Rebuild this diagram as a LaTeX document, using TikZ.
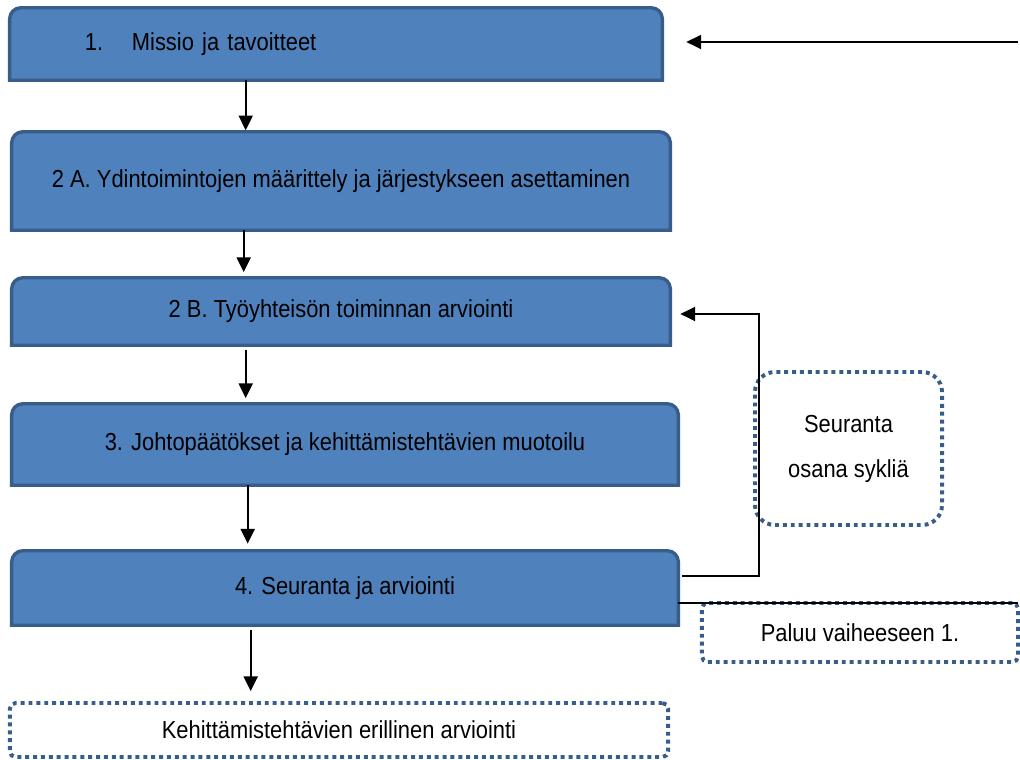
\documentclass[tikz,border=0pt]{standalone}
\usepackage{fontspec}
\setmainfont{Liberation Sans}[FakeStretch=0.89]
\usetikzlibrary{arrows.meta,backgrounds}

\definecolor{sininen}{RGB}{79,129,189}
\definecolor{reuna}{RGB}{56,93,138}

\begin{document}
\begin{tikzpicture}[x=0.025cm, y=-0.025cm,
	every node/.style = {font=\fontsize{17.5}{21}\selectfont},
	vaihe/.style = {minimum width=16.45cm, inner sep=0pt},
	pist/.style = {draw=reuna, line width=2.8pt, dash pattern=on 2.8pt off 2.8pt, rounded corners=4pt, inner sep=0pt},
	nuoli/.style = {-{Triangle[length=10.5pt,width=10pt]}, line width=1.3pt},
	viiva/.style = {line width=1.1pt}]
	\useasboundingbox (0,0) rectangle (1020,760);
	% vaiheet
	\node[vaihe, minimum width=16.3cm, minimum height=1.8cm, inner xsep=1.875cm, text width=12.55cm, align=left] (b1) at (336,44) {\makebox[1.175cm][l]{1.}Missio ja tavoitteet};
	\node[vaihe, minimum height=2.45cm] (b2a) at (341,181) {2 A. Ydintoimintojen määrittely ja järjestykseen asettaminen};
	\node[vaihe, minimum height=1.675cm] (b2b) at (341,311.5) {2 B. Työyhteisön toiminnan arviointi};
	\node[vaihe, minimum width=16.65cm, minimum height=2.025cm] (b3) at (345,444.5) {3. Johtopäätökset ja kehittämistehtävien muotoilu};
	\node[vaihe, minimum width=16.65cm, minimum height=1.85cm] (b4) at (345,588) {4. Seuranta ja arviointi};
	\node[pist, minimum width=16.45cm, minimum height=1.35cm] (kehi) at (339,730) {Kehittämistehtävien erillinen arviointi};
	\node[pist, minimum width=4.675cm, minimum height=3.825cm, rounded corners=0.5cm, align=center] (seur) at (848.5,448.5) {Seuranta\\[11pt]osana sykliä};
	\node[pist, minimum width=7.9cm, minimum height=1.475cm] (paluu) at (860,632.5) {Paluu vaiheeseen 1.};
	\begin{scope}[on background layer]
		\foreach \b in {b1,b2a,b2b,b3,b4}
			\filldraw[fill=sininen, draw=reuna, line width=2.4pt] (\b.south west) [rounded corners=8pt] -- (\b.north west) -- (\b.north east) [sharp corners] -- (\b.south east) -- cycle;
	\end{scope}
	% nuolet
	\draw[nuoli, shorten >=1pt] ([xshift=5.9cm]b1.south west) coordinate (a1) -- (a1 |- b2a.north);
	\draw[nuoli, shorten >=4pt] ([xshift=5.8cm]b2a.south west) coordinate (a2) -- (a2 |- b2b.north);
	\draw[nuoli, shorten <=3pt, shorten >=4pt] ([xshift=5.85cm]b2b.south west) coordinate (a3) -- (a3 |- b3.north);
	\draw[nuoli, shorten >=5pt] ([xshift=5.9cm]b3.south west) coordinate (a4) -- (a4 |- b4.north);
	\draw[nuoli, shorten <=3pt, shorten >=7pt] ([xshift=5.975cm]b4.south west) coordinate (a5) -- (a5 |- kehi.north);
	\coordinate (alku) at (1018,42);
	\draw[nuoli] (alku) -- ([xshift=0.6cm]b1.east |- alku);
	\coordinate (k1) at (759,576);
	\coordinate (k2) at (759,314);
	\draw[viiva, -{Triangle[length=10.5pt,width=10pt]}] ([xshift=0.1cm]b4.east |- k1) -- (k1) -- (k2) -- ([xshift=0.25cm]b2b.east |- k2);
	\coordinate (p1) at (1018,603);
	\draw[viiva] (b4.east |- p1) -- (p1);
\end{tikzpicture}
\end{document}
